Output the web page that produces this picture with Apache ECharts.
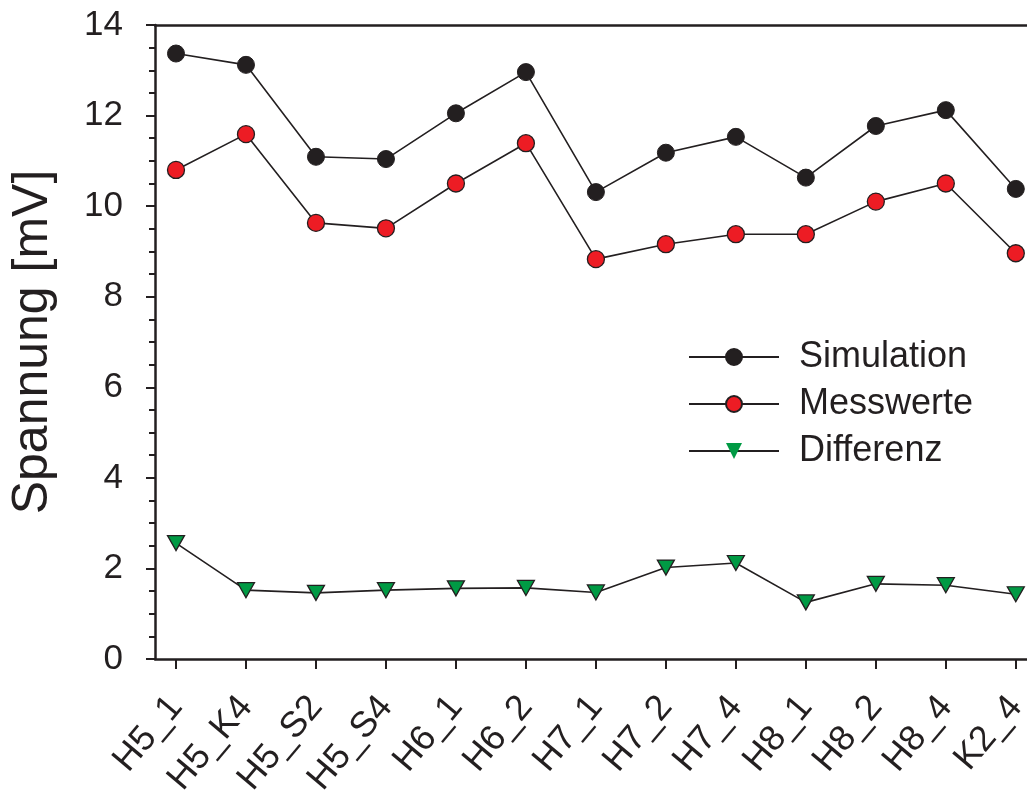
<!DOCTYPE html>
<html>
<head>
<meta charset="utf-8">
<script src="https://cdn.jsdelivr.net/npm/echarts@6/dist/echarts.min.js"></script>
<style>html,body{margin:0;padding:0;background:#fff;}#c{width:1027px;height:794px;}</style>
</head>
<body>
<div id="c"></div>
<script>
const categories = ['H5_1','H5_K4','H5_S2','H5_S4','H6_1','H6_2','H7_1','H7_2','H7_4','H8_1','H8_2','H8_4','K2_4'];
const simulation = [13.37,13.12,11.09,11.04,12.05,12.96,10.31,11.18,11.53,10.63,11.77,12.12,10.38];
const messwerte  = [10.80,11.59,9.63,9.51,10.50,11.39,8.83,9.16,9.38,9.38,10.10,10.50,8.96];
const differenz  = [2.56,1.52,1.46,1.52,1.56,1.57,1.47,2.02,2.12,1.25,1.66,1.63,1.43];
const yTicks = [0,2,4,6,8,10,12,14];

const ink = '#231f20';
const font = '"Liberation Sans", Arial, sans-serif';
const idx = categories.map((_, i) => i);
const pairs = arr => arr.map((v, i) => [i, v]);

const chart = echarts.init(document.getElementById('c'), null, {renderer: 'canvas'});
chart.setOption({
  backgroundColor: '#ffffff',
  animation: false,
  textStyle: {fontFamily: font, color: ink},
  grid: {left: 155, right: 0, top: 25, bottom: 135, containLabel: false, outerBoundsMode: 'none'},
  legend: {
    orient: 'vertical',
    left: 683,
    top: 334,
    itemWidth: 90,
    itemHeight: 20,
    itemGap: 11,
    textStyle: {fontFamily: font, fontSize: 36, color: ink, padding: [0, 0, 0, 15]},
    data: [
      {name: 'Simulation'},
      {name: 'Messwerte'},
      {name: 'Differenz', itemStyle: {borderWidth: 0}}
    ]
  },
  xAxis: [{
    type: 'value',
    min: -0.3,
    max: 12.16,
    position: 'bottom',
    splitLine: {show: false},
    axisLine: {show: true, onZero: false, lineStyle: {color: ink, width: 2.5}},
    axisTick: {show: true, customValues: idx, length: 10, inside: false, lineStyle: {color: ink, width: 2}},
    axisLabel: {
      customValues: idx,
      rotate: 50,
      margin: 42,
      fontSize: 36,
      fontFamily: font,
      color: ink,
      formatter: v => categories[Math.round(v)] || ''
    }
  }, {
    type: 'value',
    min: -0.3,
    max: 12.16,
    position: 'top',
    splitLine: {show: false},
    axisLine: {show: true, onZero: false, lineStyle: {color: ink, width: 2.5}},
    axisTick: {show: false},
    axisLabel: {show: false}
  }],
  yAxis: {
    type: 'value',
    min: 0,
    max: 14,
    interval: 2,
    name: 'Spannung [mV]',
    nameLocation: 'middle',
    nameGap: 97,
    nameTextStyle: {fontFamily: font, fontSize: 50, color: ink},
    splitLine: {show: false},
    axisLine: {show: true, onZero: false, lineStyle: {color: ink, width: 2.5}},
    axisTick: {show: true, length: 9, lineStyle: {color: ink, width: 2}},
    minorTick: {show: true, splitNumber: 4, length: 6, lineStyle: {color: ink, width: 2}},
    axisLabel: {
      customValues: yTicks,
      margin: 32,
      fontSize: 35,
      fontFamily: font,
      color: ink
    }
  },
  series: [{
    name: 'Simulation',
    type: 'line',
    data: pairs(simulation),
    symbol: 'circle',
    symbolSize: 17,
    lineStyle: {color: ink, width: 1.6},
    itemStyle: {color: ink, borderColor: ink, borderWidth: 1},
    z: 3
  }, {
    name: 'Messwerte',
    type: 'line',
    data: pairs(messwerte),
    symbol: 'circle',
    symbolSize: 17,
    lineStyle: {color: ink, width: 1.6},
    itemStyle: {color: '#ed1c24', borderColor: ink, borderWidth: 1.3},
    z: 3
  }, {
    name: 'Differenz',
    type: 'line',
    data: pairs(differenz),
    symbol: 'triangle',
    symbolRotate: 180,
    symbolSize: [17, 15],
    lineStyle: {color: ink, width: 1.6},
    itemStyle: {color: '#009a44', borderColor: ink, borderWidth: 1.3},
    z: 3
  }]
});
</script>
</body>
</html>
